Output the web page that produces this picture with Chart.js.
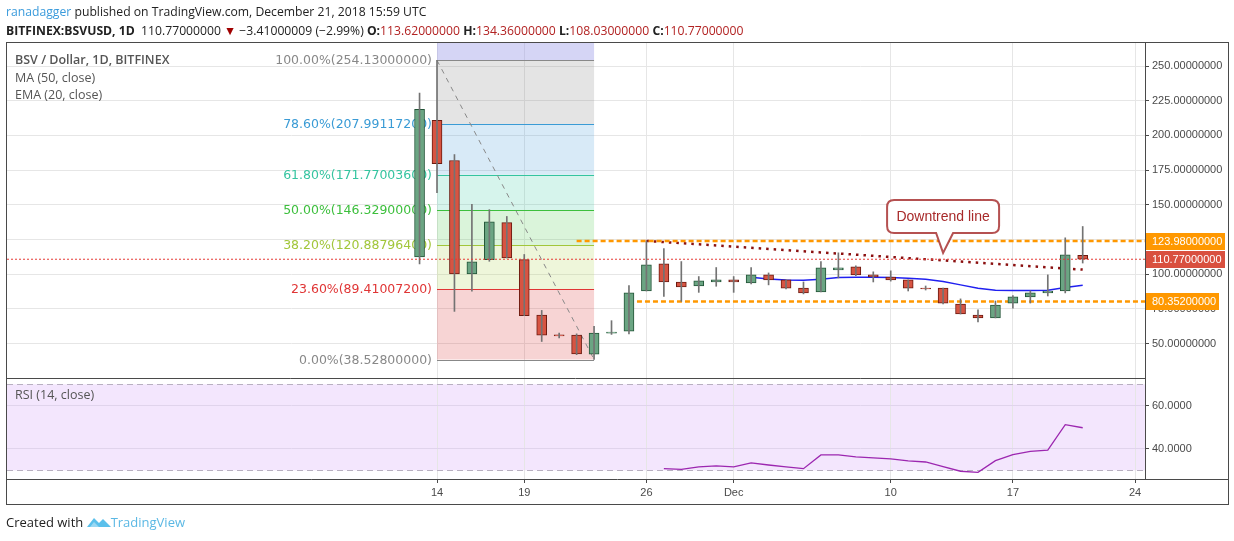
<!DOCTYPE html>
<html>
<head>
<meta charset="utf-8">
<script src="https://cdn.jsdelivr.net/npm/chart.js@4.4.1/dist/chart.umd.min.js"></script>
<style>
body{margin:0;width:1234px;height:541px;background:#fff;position:relative;overflow:hidden;font-family:"Open Sans",sans-serif}
#c{position:absolute;left:0;top:0}
.t{position:absolute;white-space:nowrap}
.r{color:#b22222}
</style>
</head>
<body>
<canvas id="c" width="1234" height="541"></canvas>
<div class="t" style="left:6px;top:3px;font-size:12.2px;color:#222"><span style="color:#3a9bdc">ranadagger</span> published on TradingView.com, December 21, 2018 15:59 UTC</div>
<div class="t" style="left:6px;top:22px;font-size:12.2px;color:#222"><b>BITFINEX:BSVUSD, 1D</b>&nbsp; 110.77000000 <span style="color:#a00000">&#9660;</span> &minus;3.41000009 (&minus;2.99%) <b>O:</b><span class="r">113.62000000</span> <b>H:</b><span class="r">134.36000000</span> <b>L:</b><span class="r">108.03000000</span> <b>C:</b><span class="r">110.77000000</span></div>
<div class="t" style="left:15px;top:51px;font-size:12.5px;color:#555;font-weight:600">BSV / Dollar, 1D, BITFINEX</div>
<div class="t" style="left:15px;top:69px;font-size:12.5px;color:#555">MA (50, close)</div>
<div class="t" style="left:15px;top:86px;font-size:12.5px;color:#555">EMA (20, close)</div>
<div class="t" style="left:15px;top:386px;font-size:12.5px;color:#555">RSI (14, close)</div>
<div class="t" style="left:6px;top:513px;font-size:13px;color:#222">Created with
<svg width="24" height="14" viewBox="0 0 24 14" style="vertical-align:-2px"><path d="M0 12 L7 3 L12 8 L16 4 L24 12 Z" fill="#5bc0eb"/><path d="M3 12 L7 7 L12 12 Z" fill="#9ad8f3"/></svg><span style="color:#5bb8e4">TradingView</span></div>

<script>
// daily candles, BSV/USD Bitfinex
const dates = [
  "2018-11-13","2018-11-14","2018-11-15","2018-11-16","2018-11-17","2018-11-18","2018-11-19",
  "2018-11-20","2018-11-21","2018-11-22","2018-11-23","2018-11-24","2018-11-25","2018-11-26",
  "2018-11-27","2018-11-28","2018-11-29","2018-11-30","2018-12-01","2018-12-02","2018-12-03",
  "2018-12-04","2018-12-05","2018-12-06","2018-12-07","2018-12-08","2018-12-09","2018-12-10",
  "2018-12-11","2018-12-12","2018-12-13","2018-12-14","2018-12-15","2018-12-16","2018-12-17",
  "2018-12-18","2018-12-19","2018-12-20","2018-12-21"
];
const open  = [112.5,210.8,181.9,100.2,110.5,137.1,110.5,70.6,56.3,56.1,42.4,57.5,59.0,87.9,
               107.4,94.4,91.5,94.4,95.9,93.7,99.5,95.9,90.0,87.2,103.1,105.3,99.5,98.0,
               95.9,90.0,90.0,78.5,70.6,68.5,79.2,83.6,86.5,87.9,113.62];
const high  = [230.5,254.13,186.2,150.3,146.5,141.6,114.2,73.9,57.6,57.0,62.4,66.5,91.8,123.98,
               118.5,109.1,98.3,104.8,98.3,104.8,100.9,95.9,94.4,109.1,115.4,106.0,101.7,102.4,
               95.9,91.5,90.0,82.2,74.3,80.7,84.5,88.0,99.5,126.2,134.36];
const low   = [107.4,158.7,73.2,87.7,109.3,111.7,70.1,51.5,54.0,42.0,38.528,56.6,56.9,87.9,
               84.0,80.4,86.9,91.3,86.9,93.0,92.3,89.4,85.8,87.2,97.3,99.0,94.4,95.0,
               87.9,88.6,78.5,71.3,65.6,68.5,75.6,79.2,84.3,86.5,108.03];
const close = [218.7,179.7,100.2,108.9,137.8,111.7,70.1,56.1,55.6,42.6,57.6,58.3,86.5,106.7,
               94.4,90.8,95.2,95.9,94.4,99.5,95.9,90.0,86.5,104.6,104.6,99.5,98.0,95.9,
               90.0,89.4,79.2,71.3,68.5,77.8,83.6,86.5,87.9,114.0,110.77];
const ema20 = [null,null,null,null,null,null,null,null,null,null,null,null,null,null,
               null,null,null,null,null,97.8,96.6,95.9,95.6,96.4,97.6,97.8,97.8,97.6,
               97.1,96.4,94.7,92.3,89.9,88.5,88.2,88.2,88.5,90.4,92.1];
const rsi14 = [null,null,null,null,null,null,null,null,null,null,null,null,null,null,
               30.8,30.5,31.6,32.1,31.6,33.5,32.5,31.6,30.8,37.2,37.2,36.3,35.8,35.3,
               34.4,33.9,31.8,29.6,29.1,34.5,37.3,38.8,39.4,51.2,49.8];

const tickDates  = ["2018-11-14","2018-11-19","2018-11-26","2018-12-01","2018-12-10","2018-12-17","2018-12-24"];
const tickLabels = ["14","19","26","Dec","10","17","24"];
const priceTicks = [50,75,100,125,150,175,200,225,250];
const rsiTicks   = [40,60];
const rsiBand    = [30,70];

const fibHigh = 254.13, fibLow = 38.528;
const fibFrom = "2018-11-14", fibTo = "2018-11-23";
const fibRatios = [1,0.786,0.618,0.5,0.382,0.236,0];
const fibColors = ["#888888","#3a9bd5","#35c4a0","#3cbf3c","#a2c63a","#e03535","#888888"];
const fibFills  = ["rgba(120,120,120,0.2)","rgba(60,150,215,0.2)","rgba(50,200,160,0.2)",
                   "rgba(70,200,70,0.2)","rgba(170,210,70,0.2)","rgba(220,60,60,0.22)"];

const resistance = 123.98, resistanceFrom = "2018-11-22";
const support = 80.352, supportFrom = "2018-11-25";
const lastPrice = 110.77;
const trendFrom = ["2018-11-26",123.98], trendTo = ["2018-12-21",103.3];
const calloutAt = ["2018-12-13",115.3], calloutText = "Downtrend line";

const dayOf = d => (Date.parse(d) - Date.parse("2018-11-14")) / 86400000;
const xMin = -24.64, xMax = 40.57;
const isUp = dates.map((d,i) => close[i] >= open[i]);

const fibPlugin = {
  id: "fib",
  beforeDraw(chart) {
    const {ctx, chartArea: a, scales: {rsi}} = chart;
    ctx.save();
    ctx.fillStyle = "#f3e6fd";
    const t = rsi.getPixelForValue(rsiBand[1]), b = rsi.getPixelForValue(rsiBand[0]);
    ctx.fillRect(a.left, t, a.right - a.left, b - t);
    ctx.restore();
  },
  beforeDatasetsDraw(chart) {
    const {ctx, chartArea: a, scales: {x, y, rsi}} = chart;
    ctx.save();
    // rsi band edges
    ctx.strokeStyle = "#b8b0c0";
    ctx.setLineDash([6,4]);
    for (const v of rsiBand) {
      const py = Math.round(rsi.getPixelForValue(v)) + 0.5;
      ctx.beginPath(); ctx.moveTo(a.left, py); ctx.lineTo(a.right, py); ctx.stroke();
    }
    ctx.setLineDash([]);
    const x0 = x.getPixelForValue(dayOf(fibFrom)), x1 = x.getPixelForValue(dayOf(fibTo));
    const lv = fibRatios.map(r => fibLow + r * (fibHigh - fibLow));
    const py = lv.map(v => y.getPixelForValue(v));
    ctx.fillStyle = "rgba(150,150,230,0.4)";
    ctx.fillRect(x0, y.top, x1 - x0, py[0] - y.top);
    for (let i = 0; i < fibFills.length; i++) {
      ctx.fillStyle = fibFills[i];
      ctx.fillRect(x0, py[i], x1 - x0, py[i+1] - py[i]);
    }
    ctx.font = "12.5px 'DejaVu Sans'";
    ctx.textAlign = "right"; ctx.textBaseline = "middle";
    for (let i = 0; i < lv.length; i++) {
      const yy = Math.round(py[i]) + 0.5;
      ctx.strokeStyle = fibColors[i]; ctx.lineWidth = 1;
      ctx.beginPath(); ctx.moveTo(x0, yy); ctx.lineTo(x1, yy); ctx.stroke();
      ctx.fillStyle = fibColors[i];
      ctx.fillText((fibRatios[i]*100).toFixed(2) + "%(" + lv[i].toFixed(8) + ")", x0 - 5, yy);
    }
    ctx.strokeStyle = "#888"; ctx.setLineDash([5,5]);
    ctx.beginPath(); ctx.moveTo(x0, py[0]); ctx.lineTo(x1, py[py.length-1]); ctx.stroke();
    ctx.restore();
  },
  afterDraw(chart) {
    const {ctx, chartArea: a, scales: {x, y}} = chart;
    ctx.save();
    // frame
    ctx.strokeStyle = "#4a4a4a"; ctx.lineWidth = 1;
    ctx.strokeRect(6.5, a.top + 0.5, 1222, 462);
    ctx.beginPath();
    ctx.moveTo(6, Math.round(y.bottom) + 0.5); ctx.lineTo(a.right, Math.round(y.bottom) + 0.5);
    ctx.moveTo(6, a.bottom + 0.5); ctx.lineTo(1229, a.bottom + 0.5);
    ctx.moveTo(a.right + 0.5, a.top); ctx.lineTo(a.right + 0.5, a.bottom);
    ctx.stroke();
    // price labels on axis
    ctx.font = "11px 'Liberation Sans'";
    ctx.textBaseline = "middle"; ctx.textAlign = "left";
    const tags = [[resistance, "#ff9800", 79], [lastPrice, "#d9503f", 79], [support, "#ff9800", 73]];
    for (const [v, col, w] of tags) {
      const py = Math.round(y.getPixelForValue(v));
      ctx.fillStyle = col;
      ctx.fillRect(a.right + 1, py - 8, w, 17);
      ctx.fillStyle = "#fff";
      ctx.fillText(v.toFixed(8), a.right + 7, py + 1);
    }
    // callout
    const tx = x.getPixelForValue(dayOf(calloutAt[0])), ty = y.getPixelForValue(calloutAt[1]);
    const bl = tx - 56, br = tx + 56, bt = ty - 53, bb = ty - 20, r = 7;
    ctx.beginPath();
    ctx.moveTo(bl + r, bt); ctx.lineTo(br - r, bt); ctx.quadraticCurveTo(br, bt, br, bt + r);
    ctx.lineTo(br, bb - r); ctx.quadraticCurveTo(br, bb, br - r, bb);
    ctx.lineTo(tx + 10, bb); ctx.lineTo(tx, ty); ctx.lineTo(tx - 7, bb);
    ctx.lineTo(bl + r, bb); ctx.quadraticCurveTo(bl, bb, bl, bb - r);
    ctx.lineTo(bl, bt + r); ctx.quadraticCurveTo(bl, bt, bl + r, bt);
    ctx.closePath();
    ctx.fillStyle = "#fff"; ctx.fill();
    ctx.strokeStyle = "rgba(168,50,50,0.85)"; ctx.lineWidth = 2; ctx.stroke();
    ctx.fillStyle = "#a82a2a"; ctx.font = "14px 'Liberation Sans'"; ctx.textAlign = "center";
    ctx.fillText(calloutText, tx, (bt + bb) / 2 + 1);
    ctx.restore();
  }
};

const pt = (arr) => dates.map((d,i) => arr[i] == null ? null : {x: dayOf(d), y: arr[i]})
                         .filter(p => p);

new Chart(document.getElementById("c"), {
  type: "bar",
  data: {
    datasets: [
      {
        type: "line", data: [{x: xMin, y: lastPrice}, {x: xMax, y: lastPrice}],
        borderColor: "#e53935", borderWidth: 1, borderDash: [2,2], pointRadius: 0, yAxisID: "y"
      },
      {
        data: dates.map((d,i) => ({x: dayOf(d), y: [low[i], high[i]]})),
        backgroundColor: "#737373", barThickness: 1, grouped: false, yAxisID: "y"
      },
      {
        data: dates.map((d,i) => ({x: dayOf(d), y: [open[i], close[i]]})),
        backgroundColor: isUp.map(u => u ? "#6ba583" : "#d75442"),
        borderColor: isUp.map(u => u ? "#225437" : "#6b1a10"),
        borderWidth: 1, borderSkipped: false, barThickness: 10, grouped: false, yAxisID: "y"
      },
      {
        type: "line", data: pt(ema20),
        borderColor: "#2020f0", borderWidth: 1.5, pointRadius: 0, yAxisID: "y"
      },
      {
        type: "line", data: [{x: dayOf(resistanceFrom), y: resistance}, {x: xMax, y: resistance}],
        borderColor: "#ff9800", borderWidth: 2.5, borderDash: [5,3], pointRadius: 0, yAxisID: "y"
      },
      {
        type: "line", data: [{x: dayOf(supportFrom), y: support}, {x: xMax, y: support}],
        borderColor: "#ff9800", borderWidth: 2.5, borderDash: [5,3], pointRadius: 0, yAxisID: "y"
      },
      {
        type: "line", data: [{x: dayOf(trendFrom[0]), y: trendFrom[1]}, {x: dayOf(trendTo[0]), y: trendTo[1]}],
        borderColor: "#8b1010", borderWidth: 2.5, borderDash: [2.5,5], pointRadius: 0, yAxisID: "y"
      },
      {
        type: "line", data: pt(rsi14),
        borderColor: "#9c27b0", borderWidth: 1.3, pointRadius: 0, yAxisID: "rsi"
      }
    ]
  },
  options: {
    responsive: false,
    animation: false,
    layout: {padding: {left: 7, top: 42, right: 6, bottom: 37}},
    plugins: {legend: {display: false}, tooltip: {enabled: false}},
    scales: {
      x: {
        type: "linear", min: xMin, max: xMax, offset: false,
        afterBuildTicks: s => { s.ticks = tickDates.map(d => ({value: dayOf(d)})); },
        afterFit: s => { s.height = 25; },
        ticks: {
          callback: (v, i) => tickLabels[i], maxRotation: 0, autoSkip: false,
          color: "#4a4a4a", font: {family: "Liberation Sans", size: 11}, padding: 3
        },
        grid: {color: "#e6e6e6", offset: false, tickLength: 4, tickColor: "#4a4a4a"},
        border: {display: false}
      },
      y: {
        type: "linear", position: "right", stack: "panes", stackWeight: 336,
        min: 25.2, max: 267.3,
        afterBuildTicks: s => { s.ticks = priceTicks.map(v => ({value: v})); },
        afterFit: s => { s.width = 83; },
        ticks: {
          callback: v => v.toFixed(8),
          color: "#4a4a4a", font: {family: "Liberation Sans", size: 11}, padding: 3
        },
        grid: {color: "#e6e6e6", tickLength: 4, tickColor: "#4a4a4a"},
        border: {display: false}
      },
      rsi: {
        type: "linear", position: "right", stack: "panes", stackWeight: 101,
        min: 26.0, max: 72.9,
        afterBuildTicks: s => { s.ticks = rsiTicks.map(v => ({value: v})); },
        afterFit: s => { s.width = 83; },
        ticks: {
          callback: v => v.toFixed(4),
          color: "#4a4a4a", font: {family: "Liberation Sans", size: 11}, padding: 3
        },
        grid: {color: "#e0d4ec", tickLength: 4, tickColor: "#4a4a4a"},
        border: {display: false}
      }
    }
  },
  plugins: [fibPlugin]
});
</script>
</body>
</html>
